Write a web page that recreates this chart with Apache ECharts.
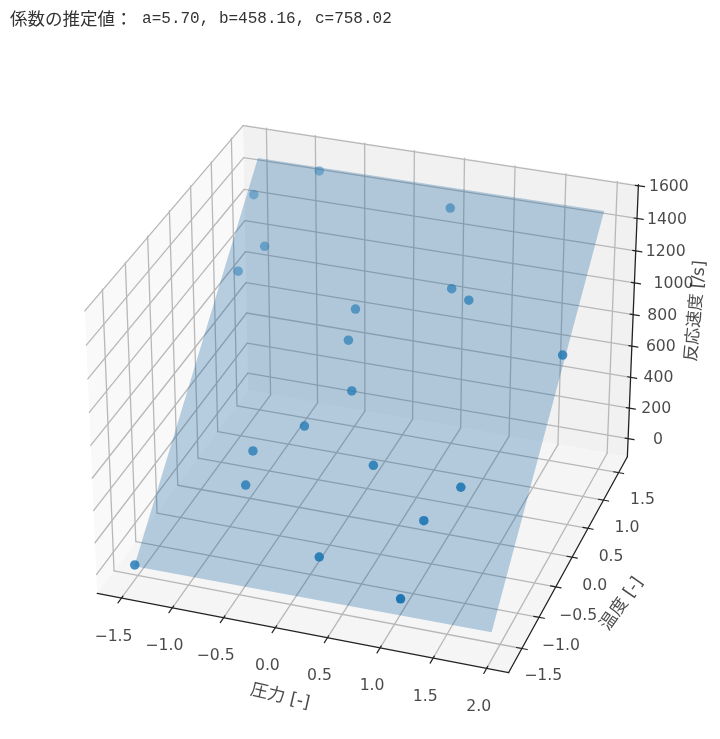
<!DOCTYPE html>
<html><head><meta charset="utf-8">
<style>html,body{margin:0;padding:0;background:#fff}#c{width:720px;height:739px}</style>
<script src="https://cdn.jsdelivr.net/npm/echarts@6/dist/echarts.min.js"></script></head>
<body><div id="c"></div>
<script>
// ---- data ----
const pressure    = [-1.35,0.32,1.16,1.17,1.42,-0.55,-0.58,0.57,-0.17,0.17,-0.00,-0.02,0.82,1.01,2.01,0.59,-0.76,-1.32,-1.06,-1.24];
const temperature = [-1.39,-1.10,-1.29,-0.71,-0.43,-0.68,-0.42,-0.38,-0.18,0.14,0.51,0.75,1.02,0.95,0.65,1.63,1.77,1.51,1.12,0.90];
const rate        = [113,256,172,437,570,445,561,589,677,822,992,1103,1228,1200,1069,1508,1564,1441,1267,1164];
const planeX = [-1.35,2.05,2.03,-1.39];
const planeY = [-1.40,-1.41,1.78,1.80];
const planeZ = [109,125,1585,1575];
const xTicks = [-1.5,-1,-0.5,0,0.5,1,1.5,2];
const xTickLabels = ['−1.5','−1.0','−0.5','0.0','0.5','1.0','1.5','2.0'];
const yTicks = [-1,-0.5,0,0.5,1,1.5,2];
const yLabelPos = [-1.5,-1,-0.5,0,0.5,1,1.5];
const yTickLabels = ['−1.5','−1.0','−0.5','0.0','0.5','1.0','1.5'];
const zTicks = [0,200,400,600,800,1000,1200,1400,1600];
const zTickLabels = ['0','200','400','600','800','1000','1200','1400','1600'];
const xLim = [-1.7403,2.2044], yLim = [-1.3763,2.2950], zLim = [-119.19,1606.57];
const headLabel = '係数の推定値：', headValues = ' a=5.70, b=458.16, c=758.02';

// ---- view (elevation, azimuth, distance, scale, box, centre) ----
const view = {el:29.9476*Math.PI/180, az:-71.0183*Math.PI/180, d:8.6513, s:3688.22, bx:1, by:0.995, bz:0.7514, cx:370.31, cy:387.13};
const f=[Math.cos(view.el)*Math.cos(view.az),Math.cos(view.el)*Math.sin(view.az),Math.sin(view.el)];
const rt=[-Math.sin(view.az),Math.cos(view.az),0];
const up=[-Math.sin(view.el)*Math.cos(view.az),-Math.sin(view.el)*Math.sin(view.az),Math.cos(view.el)];
const dot=(p,q)=>p[0]*q[0]+p[1]*q[1]+p[2]*q[2];
const norm=(x,y,z)=>[(x-xLim[0])/(xLim[1]-xLim[0])*view.bx-view.bx/2,(y-yLim[0])/(yLim[1]-yLim[0])*view.by-view.by/2,(z-zLim[0])/(zLim[1]-zLim[0])*view.bz-view.bz/2];
function depth(x,y,z){return view.d-dot(norm(x,y,z),f);}
function P(x,y,z){const u=norm(x,y,z),dp=depth(x,y,z);return [view.cx+view.s*dot(u,rt)/dp,view.cy-view.s*dot(u,up)/dp];}
const seg=(a,b)=>[...P(...a),...P(...b)];
const [x0,x1]=xLim,[y0,y1]=yLim,[z0,z1]=zLim;

// panes
const polys=[
 {pts:[[x0,y0,z0],[x0,y1,z0],[x0,y1,z1],[x0,y0,z1]],color:'#f9f9f9'},
 {pts:[[x0,y1,z0],[x1,y1,z0],[x1,y1,z1],[x0,y1,z1]],color:'#f1f1f1'},
 {pts:[[x0,y0,z0],[x1,y0,z0],[x1,y1,z0],[x0,y1,z0]],color:'#f5f5f5'}
];
function polySeries(name,list,z){
 return {type:'custom',name,silent:true,z,clip:false,coordinateSystem:'cartesian2d',
  data:list.map(p=>p.pts.flatMap(q=>P(...q))),
  renderItem:(params,api)=>{const l=list[params.dataIndex];
   const points=l.pts.map((_,i)=>api.coord([api.value(2*i),api.value(2*i+1)]));
   return {type:'polygon',shape:{points},style:{fill:l.color,opacity:l.opacity==null?1:l.opacity}};}};
}
function segSeries(name,segs,color,width,z){
 return {type:'custom',name,silent:true,z,clip:false,coordinateSystem:'cartesian2d',data:segs,
  renderItem:(params,api)=>{const a=api.coord([api.value(0),api.value(1)]),b=api.coord([api.value(2),api.value(3)]);
   return {type:'line',shape:{x1:a[0],y1:a[1],x2:b[0],y2:b[1]},style:{stroke:color,lineWidth:width,lineCap:'round'}};}};
}
function textSeries(name,items,size,family,z){
 return {type:'scatter',name,silent:true,z,symbolSize:0,clip:false,
  data:items.map(t=>({name:t.text,value:t.pos,label:{rotate:t.rot||0}})),
  label:{show:true,position:'inside',formatter:'{b}',fontSize:size,fontFamily:family,color:'#1c1c1c',align:'center',verticalAlign:'middle'}};
}

// grid lines
const grid=[];
xTicks.forEach(x=>{grid.push(seg([x,y0,z0],[x,y1,z0]),seg([x,y1,z0],[x,y1,z1]));});
yTicks.forEach(y=>{grid.push(seg([x1,y,z0],[x0,y,z0]),seg([x0,y,z0],[x0,y,z1]));});
zTicks.forEach(z=>{grid.push(seg([x0,y0,z],[x0,y1,z]),seg([x0,y1,z],[x1,y1,z]));});

// axis lines and tick marks
const axes=[seg([x0,y0,z0],[x1,y0,z0]),seg([x1,y0,z0],[x1,y1,z0]),seg([x1,y1,z0],[x1,y1,z1])];
const ticks=[];
xTicks.forEach(x=>ticks.push(seg([x,y0+0.03,z0],[x,y0-0.08,z0])));
yTicks.forEach(y=>ticks.push(seg([x1-0.05,y,z0],[x1+0.05,y,z0])));
zTicks.forEach(z=>ticks.push(seg([x1-0.03,y1,z],[x1+0.06,y1,z])));

// tick labels (offsets from the tick, in pixels)
const yLabelDy=[-5,-3,-1,-1,0,0,0];
const zLabelDx=[30,27,28,29,29,39,30,30,30.5];
const tickText=[];
xTicks.forEach((x,i)=>{const p=P(x,y0,z0);tickText.push({text:xTickLabels[i],pos:[p[0]-8,p[1]+38.5]});});
yLabelPos.forEach((y,i)=>{const p=P(x1,y,z0);tickText.push({text:yTickLabels[i],pos:[p[0]+39,p[1]+yLabelDy[i]]});});
zTicks.forEach((z,i)=>{const p=P(x1,y1,z);tickText.push({text:zTickLabels[i],pos:[p[0]+zLabelDx[i],p[1]+1]});});

// points, paler with depth
const ds=pressure.map((x,i)=>depth(x,temperature[i],rate[i]));
const dmin=Math.min(...ds),dmax=Math.max(...ds);
const points=pressure.map((x,i)=>({value:P(x,temperature[i],rate[i]),itemStyle:{opacity:1-0.58*(ds[i]-dmin)/(dmax-dmin)}}));

const nameFont='"DejaVu Sans","Noto Sans CJK JP"';
const chart=echarts.init(document.getElementById('c'),null,{renderer:'canvas'});
chart.setOption({
 animation:false,
 tooltip:{show:false},legend:{show:false},
 grid:{left:0,right:0,top:0,bottom:0},
 xAxis:{type:'value',min:0,max:720,show:false},
 yAxis:{type:'value',min:0,max:739,inverse:true,show:false},
 title:{left:10,top:10,padding:0,text:`{c|${headLabel}}{m|${headValues}}`,
  textStyle:{fontWeight:'normal',rich:{c:{fontFamily:'"Noto Sans CJK JP"',fontWeight:'normal',fontSize:17.5,color:'#333'},m:{fontFamily:'"Liberation Mono"',fontWeight:'normal',fontSize:16,color:'#333'}}}},
 series:[
  polySeries('panes',polys,1),
  segSeries('grid',grid,'#b8b8b8',1.3,2),
  polySeries('plane',[{pts:planeX.map((x,i)=>[x,planeY[i],planeZ[i]]),color:'rgb(15,95,160)',opacity:0.29}],3),
  {type:'scatter',name:'測定値',z:4,silent:true,clip:false,symbol:'circle',symbolSize:9.5,data:points,itemStyle:{color:'#1f77b4'}},
  segSeries('axes',axes,'#222',1.3,5),
  segSeries('ticks',ticks,'#222',1.2,5),
  textSeries('ticklabels',tickText,15.7,'"DejaVu Sans"',6),
  textSeries('xname',[{text:'圧力 [-]',pos:[280,697],rot:-13}],17.5,nameFont,6),
  textSeries('yname',[{text:'温度 [-]',pos:[622,604],rot:55}],17.5,nameFont,6),
  textSeries('zname',[{text:'反応速度 [/s]',pos:[696,311],rot:85}],17,nameFont,6)
 ]
});
</script></body></html>
